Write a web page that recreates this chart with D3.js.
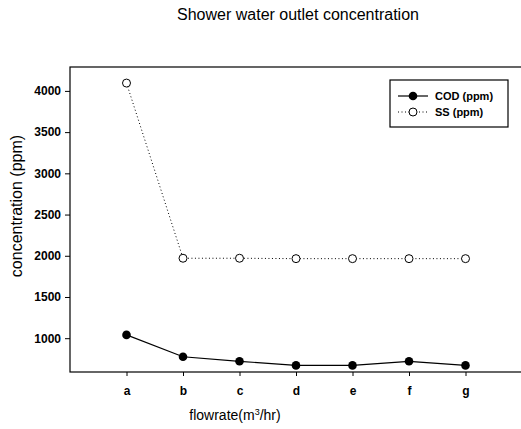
<!DOCTYPE html>
<html>
<head>
<meta charset="utf-8">
<script src="https://cdn.jsdelivr.net/npm/d3@7"></script>
<style>
  body { margin: 0; background: #fff; }
  text { font-family: "Liberation Sans", Arial, sans-serif; fill: #000; }
</style>
</head>
<body>
<div id="chart"></div>
<script>
var categories = ["a", "b", "c", "d", "e", "f", "g"];
var codValues = [1040, 775, 720, 670, 670, 720, 670];
var ssValues = [4095, 1970, 1970, 1965, 1965, 1965, 1965];
var yTicks = [1000, 1500, 2000, 2500, 3000, 3500, 4000];

var width = 521, height = 429;
var plotLeft = 70, plotRight = 522, plotTop = 67, plotBottom = 372;

var svg = d3.select("#chart")
    .append("svg")
    .attr("width", width)
    .attr("height", height);

var x = d3.scaleLinear()
    .domain([0, categories.length + 1])
    .range([plotLeft, plotRight]);

var y = d3.scaleLinear()
    .domain([590, 4290])
    .range([plotBottom, plotTop]);

// frame
svg.append("rect")
    .attr("x", plotLeft).attr("y", plotTop)
    .attr("width", plotRight - plotLeft).attr("height", plotBottom - plotTop)
    .attr("fill", "none")
    .attr("stroke", "#000")
    .attr("stroke-width", 1.2);

// y axis
var yAxis = svg.append("g")
    .attr("transform", "translate(" + plotLeft + ",0)")
    .call(d3.axisLeft(y).tickValues(yTicks).tickFormat(d3.format("d"))
        .tickSize(5).tickPadding(4));
yAxis.select(".domain").remove();
yAxis.selectAll("text")
    .style("font-size", "12px")
    .style("font-weight", "bold")
    .style("font-family", "Liberation Sans, Arial, sans-serif");

// x axis
var xAxis = svg.append("g")
    .attr("transform", "translate(0," + plotBottom + ")")
    .call(d3.axisBottom(x)
        .tickValues(d3.range(1, categories.length + 1))
        .tickFormat(function(d) { return categories[d - 1]; })
        .tickSize(4).tickPadding(10));
xAxis.select(".domain").remove();
xAxis.selectAll("text")
    .style("font-size", "12px")
    .style("font-weight", "bold")
    .style("font-family", "Liberation Sans, Arial, sans-serif");

var line = d3.line()
    .x(function(d, i) { return x(i + 1); })
    .y(function(d) { return y(d); });

// SS dotted line
svg.append("path")
    .datum(ssValues)
    .attr("d", line)
    .attr("fill", "none")
    .attr("stroke", "#000")
    .attr("stroke-width", 1)
    .attr("stroke-dasharray", "1,2.5");

// COD solid line
svg.append("path")
    .datum(codValues)
    .attr("d", line)
    .attr("fill", "none")
    .attr("stroke", "#000")
    .attr("stroke-width", 1.2);

svg.selectAll(".ss")
    .data(ssValues)
    .enter().append("circle")
    .attr("class", "ss")
    .attr("cx", function(d, i) { return x(i + 1); })
    .attr("cy", function(d) { return y(d); })
    .attr("r", 4)
    .attr("fill", "#fff")
    .attr("stroke", "#000")
    .attr("stroke-width", 1);

svg.selectAll(".cod")
    .data(codValues)
    .enter().append("circle")
    .attr("class", "cod")
    .attr("cx", function(d, i) { return x(i + 1); })
    .attr("cy", function(d) { return y(d); })
    .attr("r", 4.3)
    .attr("fill", "#000");

// legend
var lg = svg.append("g");
lg.append("rect")
    .attr("x", 390).attr("y", 80)
    .attr("width", 118).attr("height", 47)
    .attr("fill", "#fff")
    .attr("stroke", "#000")
    .attr("stroke-width", 1.2);
lg.append("line")
    .attr("x1", 398).attr("x2", 428).attr("y1", 96).attr("y2", 96)
    .attr("stroke", "#000").attr("stroke-width", 1.2);
lg.append("circle")
    .attr("cx", 413).attr("cy", 96).attr("r", 4.3).attr("fill", "#000");
lg.append("line")
    .attr("x1", 398).attr("x2", 428).attr("y1", 112).attr("y2", 112)
    .attr("stroke", "#000").attr("stroke-width", 1)
    .attr("stroke-dasharray", "1,2.5");
lg.append("circle")
    .attr("cx", 413).attr("cy", 112).attr("r", 4)
    .attr("fill", "#fff").attr("stroke", "#000");
lg.append("text")
    .attr("x", 435).attr("y", 100)
    .style("font-size", "11px").style("font-weight", "bold")
    .text("COD (ppm)");
lg.append("text")
    .attr("x", 435).attr("y", 116)
    .style("font-size", "11px").style("font-weight", "bold")
    .text("SS (ppm)");

// title
svg.append("text")
    .attr("x", 298).attr("y", 20)
    .attr("text-anchor", "middle")
    .style("font-size", "16px")
    .text("Shower water outlet concentration");

// y label
svg.append("text")
    .attr("transform", "translate(22,206) rotate(-90)")
    .attr("text-anchor", "middle")
    .style("font-size", "16px")
    .text("concentration (ppm)");

// x label
var xl = svg.append("text")
    .attr("x", 235).attr("y", 420)
    .attr("text-anchor", "middle")
    .style("font-size", "14px");
xl.append("tspan").text("flowrate(m");
xl.append("tspan").attr("dy", -5).style("font-size", "9px").text("3");
xl.append("tspan").attr("dy", 5).text("/hr)");
</script>
</body>
</html>
